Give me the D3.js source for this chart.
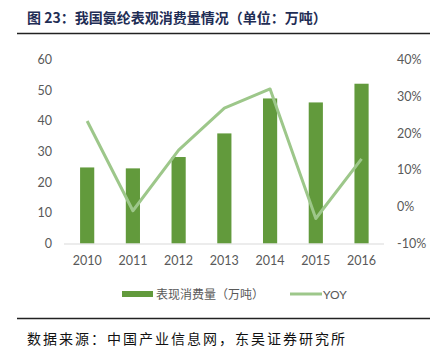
<!DOCTYPE html>
<meta charset="utf-8">
<style>
body { margin: 0; background: #fff; }
svg { display: block; }
.tick text { font-family: Lato, "Open Sans", sans-serif; font-size: 12.5px; fill: #595959; }
</style>
<body>
<script src="https://d3js.org/d3.v7.js"></script>
<script>

var years = ["2010", "2011", "2012", "2013", "2014", "2015", "2016"];
var consumption = [24.8, 24.5, 28.2, 35.9, 47.3, 46.0, 52.1];
var yoy = [23.3, -1.1, 15.4, 26.8, 32.0, -3.2, 13.0];
var leftTicks = [0, 10, 20, 30, 40, 50, 60];
var rightTicks = [-10, 0, 10, 20, 30, 40];

var width = 439, height = 352;
var barColor = "#629a3c", lineColor = "#9dc78a";

var svg = d3.select("body").append("svg")
    .attr("width", width)
    .attr("height", height);

// title + rules
svg.append("text")
    .attr("x", 27)
    .attr("y", 23)
    .style("font-family", "'Noto Sans CJK SC', sans-serif")
    .style("font-weight", "bold")
    .style("font-size", "14px")
    .style("fill", "#1f2d55")
    .text("图 23：我国氨纶表观消费量情况（单位：万吨）");

svg.append("line")
    .attr("x1", 17).attr("x2", 430)
    .attr("y1", 33.5).attr("y2", 33.5)
    .attr("stroke", "#222").attr("stroke-width", 1.6);

svg.append("line")
    .attr("x1", 17).attr("x2", 430)
    .attr("y1", 318.5).attr("y2", 318.5)
    .attr("stroke", "#222").attr("stroke-width", 1.6);

svg.append("text")
    .attr("x", 27)
    .attr("y", 344)
    .style("font-family", "'Noto Sans CJK SC', sans-serif")
    .style("font-size", "14px")
    .style("letter-spacing", "2px")
    .style("fill", "#111")
    .text("数据来源：中国产业信息网，东吴证券研究所");

// scales
var x = d3.scaleBand()
    .domain(years)
    .range([64.3, 384.4])
    .paddingInner(0.69)
    .paddingOuter(0.345);

var yL = d3.scaleLinear().domain([0, 60]).range([243.5, 59.5]);
var yR = d3.scaleLinear().domain([-10, 40]).range([243.5, 59.5]);

// axes
var leftAxis = svg.append("g")
    .attr("transform", "translate(52,0)")
    .call(d3.axisLeft(yL).tickValues(leftTicks).tickSize(0).tickPadding(0));
leftAxis.select(".domain").remove();

var rightAxis = svg.append("g")
    .attr("transform", "translate(397,0)")
    .call(d3.axisRight(yR).tickValues(rightTicks).tickSize(0).tickPadding(0)
      .tickFormat(d => d + "%"));
rightAxis.select(".domain").remove();

var xAxis = svg.append("g")
    .attr("transform", "translate(0,244)")
    .call(d3.axisBottom(x).tickSize(0).tickPadding(12));
xAxis.select(".domain").remove();

// bars
svg.selectAll("rect.bar")
    .data(consumption)
  .enter().append("rect")
    .attr("class", "bar")
    .attr("x", (d, i) => x(years[i]))
    .attr("width", x.bandwidth())
    .attr("y", d => yL(d))
    .attr("height", d => yL(0) - yL(d))
    .attr("fill", barColor);

svg.append("line")
    .attr("x1", 64).attr("x2", 384)
    .attr("y1", 244).attr("y2", 244)
    .attr("stroke", "#d9d9d9").attr("stroke-width", 1);

// yoy line
var line = d3.line()
    .x((d, i) => x(years[i]) + x.bandwidth() / 2)
    .y(d => yR(d));

svg.append("path")
    .datum(yoy)
    .attr("d", line)
    .attr("fill", "none")
    .attr("stroke", lineColor)
    .attr("stroke-width", 3)
    .attr("stroke-linejoin", "round");

// legend
var legend = svg.append("g")
    .style("font-family", "'Noto Sans CJK SC', sans-serif")
    .style("font-size", "12px")
    .style("fill", "#595959");

legend.append("rect")
    .attr("x", 122).attr("y", 291)
    .attr("width", 31).attr("height", 6)
    .attr("fill", barColor);
legend.append("text")
    .attr("x", 156).attr("y", 298.5)
    .text("表现消费量（万吨）");

legend.append("line")
    .attr("x1", 290).attr("x2", 322)
    .attr("y1", 294).attr("y2", 294)
    .attr("stroke", lineColor).attr("stroke-width", 3);
legend.append("text")
    .attr("x", 323).attr("y", 298.5)
    .style("font-family", "Lato, 'Open Sans', sans-serif")
    .text("YOY");

</script>
</body>
